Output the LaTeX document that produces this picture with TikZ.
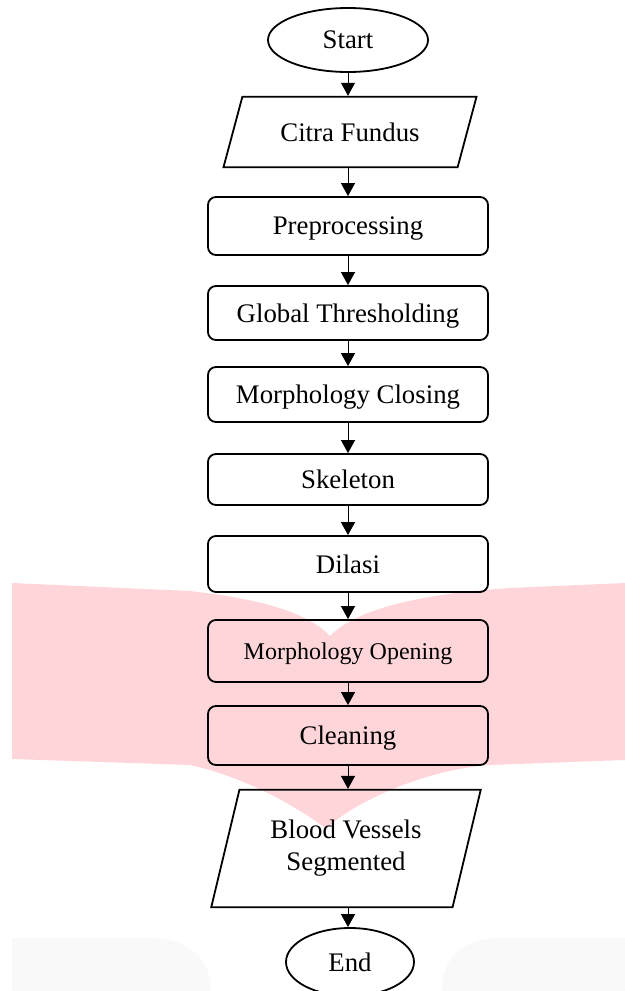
\documentclass[tikz,border=0pt]{standalone}
\usepackage{fontspec}
\setmainfont{Liberation Serif}
\usepackage{tikz}
\usetikzlibrary{arrows.meta, positioning, shapes.geometric}
\definecolor{wmpink}{RGB}{254,214,218}
\definecolor{wmgrey}{RGB}{249,249,249}

\begin{document}
\begin{tikzpicture}[x=0.5pt,y=-0.5pt,
    every node/.style={font=\fontsize{13.4}{16}\selectfont},
    term/.style={ellipse,draw,line width=0.9pt,inner sep=0pt,text depth=0pt},
    io/.style={trapezium,trapezium left angle=75,trapezium right angle=105,draw,line width=0.9pt,align=center},
    proc/.style={rectangle,rounded corners=4pt,draw,line width=0.9pt,minimum width=140pt,inner sep=0pt,text depth=0pt},
    flow/.style={-{Triangle[width=7pt,length=6.5pt]},line width=0.5pt}]
    \useasboundingbox (0,0) rectangle (625,991);
    % Watermark behind the chart
    \fill[wmpink] (12,583) -- (190,591) .. controls (270,600) and (310,615) .. (330,636)
        .. controls (350,615) and (400,595) .. (510,588) -- (625,583) -- (625,760) -- (490,765)
        .. controls (420,770) and (350,805) .. (326,829)
        .. controls (305,812) and (250,778) .. (190,765) -- (12,759) -- cycle;
    \fill[wmgrey] (12,991) -- (12,938) -- (150,938) .. controls (190,938) and (211,960) .. (211,991) -- cycle;
    \fill[wmgrey] (625,991) -- (625,938) -- (500,938) .. controls (460,938) and (442,960) .. (442,991) -- cycle;
    % Flow steps
    \node[term,minimum width=80pt,minimum height=32pt] (start) at (348,40) {Start};
    \node[io,inner xsep=19pt,inner ysep=13pt,text depth=0pt] (citra) at (350,132) {Citra Fundus};
    \node[proc,minimum height=29pt] (pre) at (348,226) {Preprocessing};
    \node[proc,minimum height=27pt] (glob) at (348,313) {Global Thresholding};
    \node[proc,minimum height=27.5pt] (close) at (348,394.5) {Morphology Closing};
    \node[proc,minimum height=25.5pt] (skel) at (348,479.5) {Skeleton};
    \node[proc,minimum height=28pt] (dil) at (348,564) {Dilasi};
    \node[proc,minimum height=31pt,font=\fontsize{12}{14}\selectfont] (open) at (348,651) {Morphology Opening};
    \node[proc,minimum height=29.5pt] (clean) at (348,735.5) {Cleaning};
    \node[io,inner xsep=15.5pt,inner ysep=15.25pt,trapezium left angle=76.5,trapezium right angle=103.5] (blood) at (346,848.5) {Blood Vessels\\Segmented};
    \node[term,minimum width=64pt,minimum height=34pt] (end) at (350,962) {End};
    % Arrows between steps
    \foreach \a/\b in {start/citra,citra/pre,pre/glob,glob/close,close/skel,skel/dil,dil/open,open/clean,clean/blood} {
        \draw[flow] (pre.north |- \a.south) -- (pre.north |- \b.north);
    }
    \draw[flow] (pre.north |- blood.south) -- (pre.north |- end.north);
\end{tikzpicture}
\end{document}
